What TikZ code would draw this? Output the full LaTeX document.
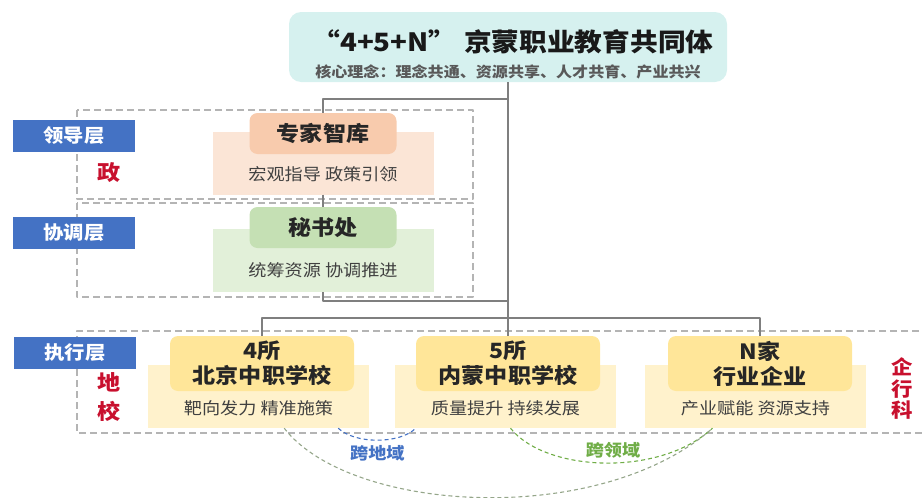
\documentclass[tikz,border=0pt]{standalone}
\usepackage{fontspec}
\setmainfont{Noto Sans CJK SC}[FakeStretch=1.1]
\usepackage{tikz}
\usetikzlibrary{calc}

\definecolor{titlecyan}{HTML}{D6F1EF}
\definecolor{layerblue}{HTML}{4472C4}
\definecolor{sidered}{HTML}{C8102E}
\definecolor{peachtop}{HTML}{F8CBAD}
\definecolor{peachlow}{HTML}{FBE5D6}
\definecolor{greentop}{HTML}{C5E0B4}
\definecolor{greenlow}{HTML}{E2F0D9}
\definecolor{yellowtop}{HTML}{FFE699}
\definecolor{yellowlow}{HTML}{FFF2CC}
\definecolor{linkgray}{HTML}{7F7F7F}
\definecolor{framegray}{HTML}{B4B4B4}
\definecolor{crossgreen}{HTML}{70AD47}
\definecolor{widegray}{HTML}{95A68A}

\begin{document}
\begin{tikzpicture}[
            x = 1pt, y = -1pt, % one unit = one pixel of the layout
            line join = round,
            link/.style = {draw=linkgray, line width=1.4pt}, % tree lines
            frame/.style = {draw=framegray, line width=1.1pt, dash pattern=on 7pt off 4pt},
            cross/.style = {line width=1.1pt, dash pattern=on 4pt off 3pt},
            layer/.style = {fill=layerblue, text=white, minimum width=122pt, minimum height=32pt,
                            inner sep=0pt, font=\fontsize{18.5}{20}\selectfont\bfseries},
            side/.style = {text=sidered, align=center, font=\fontsize{21}{29}\selectfont\bfseries},
            panel/.style = {minimum width=221pt, minimum height=63pt, inner sep=0pt},
            head/.style = {rounded corners=8pt, minimum width=147pt, minimum height=41pt, inner sep=0pt,
                           text=black!85, align=center, font=\fontsize{21}{25}\selectfont\bfseries},
            note/.style = {text=black!75, font=\fontsize{16.5}{20}\selectfont}
        ]
\useasboundingbox (0,0) rectangle (922,498);

% title
\node[fill=titlecyan, rounded corners=12pt, minimum width=438pt, minimum height=70pt] (title) at (508,47) {};
\node[text=black!90, font=\fontsize{25.2}{30}\selectfont\bfseries] (titletext) at (513,42) {“4+5+N”\hspace{0.3em}京蒙职业教育共同体};
\node[text=black!65, font=\fontsize{14.6}{16}\selectfont\bfseries] (motto) at (508,72) {核心理念：理念共通、资源共享、人才共育、产业共兴};

% dashed frames
\draw[frame] (77,110) rectangle (473,199);
\draw[frame] (77,203) rectangle (473,297);
\draw[frame] (930,331) -| (77,433) -- (930,433);

% layer labels
\node[layer] (lead) at (74,136) {领导层};
\node[layer] (coord) at (74,232.5) {协调层};
\node[layer] (exec) at (75,353) {执行层};

\node[side] (gov) at (109,173) {政};
\node[side] (school) at (109,397.5) {地\\校};
\node[side, font=\fontsize{19.5}{21.5}\selectfont\bfseries] (firm) at (902,388.5) {企\\行\\科};

% think tank and secretariat
\node[panel, fill=peachlow] (zhikuPanel) at (323,163) {};
\node[head, fill=peachtop] (zhikuHead) at (323,133.5) {专家智库};
\node[note] (zhikuNote) at (323,174) {宏观指导 政策引领};

\node[panel, fill=greenlow] (mishuPanel) at (323,260.5) {};
\node[head, fill=greentop] (mishuHead) at (323,227.5) {秘书处};
\node[note] (mishuNote) at (323,270) {统筹资源 协调推进};

% executing members
\node[panel, fill=yellowlow] (bjPanel) at (258.5,396.5) {};
\node[head, fill=yellowtop, minimum width=184pt, minimum height=55pt] (bjHead) at (262,363.5) {4所\\北京中职学校};
\node[note] (bjNote) at (258.5,408) {靶向发力 精准施策};

\node[panel, fill=yellowlow] (nmPanel) at (505.5,396.5) {};
\node[head, fill=yellowtop, minimum width=184pt, minimum height=55pt] (nmHead) at (508,363.5) {5所\\内蒙中职学校};
\node[note] (nmNote) at (505.5,408) {质量提升 持续发展};

\node[panel, fill=yellowlow] (qyPanel) at (755.5,396.5) {};
\node[head, fill=yellowtop, minimum width=184pt, minimum height=55pt] (qyHead) at (760,363.5) {N家\\行业企业};
\node[note] (qyNote) at (755.5,408) {产业赋能 资源支持};

% tree lines
\coordinate (tapA) at (508,99);
\coordinate (tapB) at (508,301);
\coordinate (hub) at (508,318);

\path[link] (title.south) edge (hub);
\draw[link] (tapA) -| (zhikuHead.north);
\path[link] (zhikuPanel.south) edge (mishuHead.north);
\draw[link] (mishuPanel.south) |- (tapB);
\draw[link] (bjHead.north) |- (hub) -| (qyHead.north);
\path[link] (hub) edge (nmHead.north);

% cross links
\coordinate (bjEnd) at ([xshift=-31pt]bjPanel.south east);
\coordinate (bjWide) at ([xshift=-85pt]bjPanel.south east);
\coordinate (nmStart) at ([xshift=21pt]nmPanel.south west);
\coordinate (nmEnd) at ([xshift=5pt]nmPanel.south);
\coordinate (qyStart) at ([xshift=-43pt]qyPanel.south);

\draw[cross, draw=layerblue] (bjEnd) .. controls +(17,16) and +(-16,16) .. (nmStart)
    node[pos=0.5, below=1pt, text=layerblue, font=\fontsize{16.5}{18}\selectfont\bfseries] (acrossRegion) {跨地域};
\draw[cross, draw=crossgreen] (nmEnd) .. controls +(35,44) and +(-53,49) .. (qyStart);
\node[text=crossgreen, font=\fontsize{16.5}{18}\selectfont\bfseries] (acrossField) at (613,450) {跨领域};
\draw[cross, draw=widegray] (bjWide) .. controls +(66,85) and +(-113,100) .. (qyStart);
\end{tikzpicture}
\end{document}
